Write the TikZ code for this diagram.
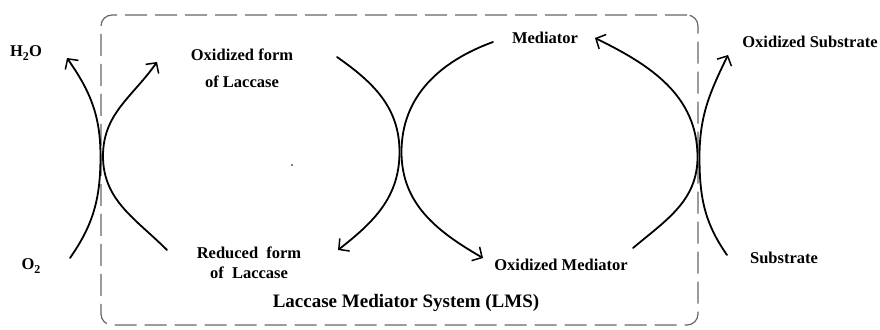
\documentclass[tikz,border=0pt]{standalone}
\usepackage{fontspec}
\setmainfont{Liberation Serif}
\usetikzlibrary{arrows.meta}
\newcommand{\lowsub}[1]{\raisebox{-3.5pt}{\fontsize{12}{12}\selectfont #1}}
\begin{document}
\begin{tikzpicture}[x=1pt,y=1pt,
  lbl/.style={font=\fontsize{16.5}{19}\selectfont\bfseries, inner sep=0pt, align=center},
  flow/.style={line width=1.8pt, line cap=round,
    -{Straight Barb[length=7.5pt,width=16pt,line width=1.5pt]}},
  sysbox/.style={draw=black!60, line width=1.2pt, dash pattern=on 22pt off 8pt,
    rounded corners=11pt, minimum width=597pt, minimum height=310pt, inner sep=0pt}]
\useasboundingbox (0,0) rectangle (880,329);

% Laccase mediator system frame
\node[sysbox] (lms) at (399.5,159) {};
\node[lbl, font=\fontsize{19}{22}\selectfont\bfseries] (title) at (406,26) {Laccase Mediator System (LMS)};

% Labels
\node[lbl] (h2o) at (26,276) {H\lowsub{2}O};
\node[lbl] (o2) at (31,63) {O\lowsub{2}};
\node[lbl] (oxlac) at (242,261) {Oxidized form\\[8pt]of Laccase};
\node[lbl] (redlac) at (249,66) {Reduced\ \ form\\[1pt]of\ \ Laccase};
\node[lbl] (med) at (545,291) {Mediator};
\node[lbl] (oxmed) at (561,64) {Oxidized Mediator};
\node[lbl] (oxsub) at (810,287) {Oxidized Substrate};
\node[lbl] (sub) at (784,71) {Substrate};
\fill (292,164) circle (0.8pt);

% Curve ends and touching points
\coordinate (a0) at (70,71);   \coordinate (am) at (100.5,173); \coordinate (a1) at (67,271);
\coordinate (b0) at (167,79);  \coordinate (bm) at (103,173);   \coordinate (b1) at (157,267);
\coordinate (c0) at (337,272); \coordinate (cm) at (399.5,177); \coordinate (c1) at (338,79);
\coordinate (d0) at (493,287); \coordinate (dm) at (401.5,177); \coordinate (d1) at (483,71);
\coordinate (e0) at (633,81);  \coordinate (em) at (697.5,172); \coordinate (e1) at (595,291);
\coordinate (f0) at (727,74);  \coordinate (fm) at (699.5,172); \coordinate (f1) at (728,274);

% O2 -> H2O and reduced -> oxidized laccase
\draw[flow] (a0) to[out=55,in=-90] (am) to[out=90,in=-55] (a1);
\draw[flow] (b0) to[out=135,in=-90] (bm) to[out=90,in=-125] (b1);
% Oxidized laccase -> reduced laccase and mediator -> oxidized mediator
\draw[flow] (c0) to[out=-35,in=90] (cm) to[out=-90,in=38] (c1);
\draw[flow] (d0) to[out=200,in=90] (dm) to[out=-90,in=150] (d1);
% Oxidized mediator -> mediator and substrate -> oxidized substrate
\draw[flow] (e0) to[out=40,in=-90] (em) to[out=90,in=-26] (e1);
\draw[flow] (f0) to[out=125,in=-90] (fm) to[out=90,in=-116] (f1);
\end{tikzpicture}
\end{document}
